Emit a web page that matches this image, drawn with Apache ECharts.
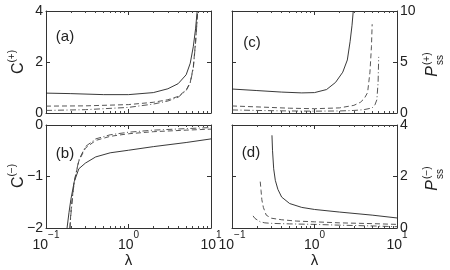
<!DOCTYPE html>
<html><head><meta charset="utf-8">
<script src="https://cdn.jsdelivr.net/npm/echarts@6/dist/echarts.min.js"></script>
<style>html,body{margin:0;padding:0;background:#fff}#c{width:450px;height:270px}</style>
</head><body><div id="c"></div>
<script>
// ---------- data ----------
// panel (a): C(+) vs lambda
const aSolidX = [0.1, 0.2, 0.5, 1, 2, 3, 4, 5, 5.6, 6.1, 6.5, 6.8];
const aSolidY = [0.78, 0.76, 0.72, 0.72, 0.8, 0.95, 1.15, 1.5, 1.95, 2.6, 3.3, 4.0];
const aDashX  = [0.1, 0.3, 1, 2, 3, 4, 5, 5.6, 6.1, 6.5, 6.9];
const aDashY  = [0.27, 0.28, 0.33, 0.42, 0.52, 0.65, 0.9, 1.2, 1.8, 2.8, 4.0];
const aDotX   = [0.1, 0.3, 1, 2, 3, 4, 5, 5.6, 6.1, 6.5, 6.9];
const aDotY   = [0.1, 0.13, 0.22, 0.35, 0.47, 0.62, 0.88, 1.18, 1.75, 2.75, 4.0];
// panel (b): C(-) vs lambda
const bSolidX = [0.18, 0.19, 0.2, 0.22, 0.25, 0.3, 0.4, 0.6, 1, 2, 5, 10];
const bSolidY = [-2.0, -1.7, -1.45, -1.1, -0.85, -0.74, -0.62, -0.54, -0.49, -0.42, -0.34, -0.27];
const bDashX  = [0.195, 0.2, 0.21, 0.22, 0.25, 0.3, 0.4, 0.6, 1, 2, 5, 10];
const bDashY  = [-2.0, -1.7, -1.35, -1.1, -0.7, -0.45, -0.3, -0.22, -0.17, -0.13, -0.1, -0.08];
const bDotX   = [0.195, 0.2, 0.21, 0.22, 0.25, 0.3, 0.4, 0.6, 1, 2, 5, 10];
const bDotY   = [-2.0, -1.75, -1.4, -1.1, -0.68, -0.42, -0.27, -0.19, -0.14, -0.1, -0.07, -0.05];
// panel (c): Pss(+) vs lambda
const cSolidX = [0.1, 0.2, 0.4, 0.7, 1, 1.4, 1.8, 2.2, 2.5, 2.7, 2.85, 2.95];
const cSolidY = [2.35, 2.2, 2.05, 1.97, 2.0, 2.3, 3.0, 4.0, 5.2, 7.0, 8.6, 10];
const cDashX  = [0.1, 0.2, 0.5, 1, 2, 3, 3.6, 4.0, 4.4, 4.7, 4.9, 5.0];
const cDashY  = [0.69, 0.6, 0.47, 0.42, 0.5, 0.75, 1.05, 1.4, 2.0, 4.0, 6.5, 8.7];
const cDotX   = [0.1, 0.2, 0.5, 1, 2, 3, 4, 5, 5.4, 5.7, 5.9, 6.0];
const cDotY   = [0.3, 0.25, 0.2, 0.18, 0.2, 0.25, 0.33, 0.5, 0.8, 1.3, 3.0, 5.5];
// panel (d): Pss(-) vs lambda
const dSolidX = [0.305, 0.31, 0.32, 0.335, 0.36, 0.4, 0.5, 0.7, 1, 2, 5, 10];
const dSolidY = [3.6, 3.0, 2.3, 1.85, 1.5, 1.2, 0.95, 0.8, 0.72, 0.62, 0.5, 0.39];
const dDashX  = [0.22, 0.225, 0.23, 0.24, 0.26, 0.3, 0.4, 0.6, 1, 2, 5, 10];
const dDashY  = [1.8, 1.45, 1.1, 0.8, 0.5, 0.38, 0.32, 0.27, 0.24, 0.2, 0.17, 0.14];
const dDotX   = [0.18, 0.19, 0.2, 0.22, 0.25, 0.3, 0.5, 1, 2, 5, 10];
const dDotY   = [0.47, 0.37, 0.3, 0.24, 0.2, 0.18, 0.16, 0.14, 0.11, 0.08, 0.05];

// axes
const xRange = [0.1, 10];
const yRanges = [[0, 4, 2], [-2, 0, 1], [0, 10, 5], [0, 4, 2]];
const panelLabels = ['(a)', '(b)', '(c)', '(d)'];
const xTitle = 'λ';

// ---------- build ----------
const FONT = '"Liberation Sans", Arial, Helvetica, sans-serif';
const INK = '#222';
const grids = [
  {left: 46, top: 11, width: 165, height: 102},
  {left: 46, top: 125, width: 165, height: 103},
  {left: 232, top: 11, width: 165, height: 102},
  {left: 232, top: 125, width: 165, height: 103}
];
const minorLog = [];
for (let d = -1; d < 1; d++) for (let k = 2; k <= 9; k++) minorLog.push(Math.log10(k) + d);

function xFmt(v) {
  const e = Math.round(Math.log10(v));
  return '{b|10}{s|' + (e < 0 ? '\u2212' + (-e) : e) + '}';
}
const xRich = {
  b: {fontSize: 14, fontFamily: FONT, color: INK, lineHeight: 22, verticalAlign: 'bottom'},
  s: {fontSize: 10, fontFamily: FONT, color: INK, verticalAlign: 'top'}
};
const line = {show: true, onZero: false, lineStyle: {color: '#333', width: 1}};

const xAxis = [], yAxis = [], series = [];
grids.forEach((g, i) => {
  const bottomRow = (i === 1 || i === 3);
  xAxis.push({type: 'log', logBase: 10, gridIndex: i, min: xRange[0], max: xRange[1], position: 'bottom',
    axisLine: line, axisTick: {show: true, inside: true, length: 4, lineStyle: {color: '#333'}},
    axisLabel: {show: bottomRow, margin: 2, formatter: xFmt, rich: xRich}, splitLine: {show: false}});
  xAxis.push({type: 'log', logBase: 10, gridIndex: i, min: xRange[0], max: xRange[1], position: 'top',
    axisLine: line, axisTick: {show: true, inside: true, length: 4, lineStyle: {color: '#333'}},
    axisLabel: {show: false}, splitLine: {show: false}});
  ['bottom', 'top'].forEach(p => xAxis.push({type: 'value', gridIndex: i, min: -1, max: 1, position: p,
    axisLine: {show: false, onZero: false}, axisTick: {show: true, inside: true, length: 2, customValues: minorLog, lineStyle: {color: '#444'}},
    axisLabel: {show: false}, splitLine: {show: false}}));
  const yr = yRanges[i];
  const leftLabels = i < 2;
  ['left', 'right'].forEach(p => yAxis.push({type: 'value', gridIndex: i, min: yr[0], max: yr[1], interval: yr[2], position: p,
    axisLine: line, axisTick: {show: true, inside: true, length: 4, lineStyle: {color: '#333'}},
    axisLabel: {show: (p === 'left') === leftLabels, margin: 3, fontSize: 14, fontFamily: FONT, color: INK,
      formatter: v => v < 0 ? '\u2212' + (-v) : String(v)},
    splitLine: {show: false}}));
});

const styles = {
  solid: {color: '#222', width: 0.9, type: 'solid'},
  dash: {color: '#444', width: 0.9, type: [5, 3]},
  dot: {color: '#444', width: 0.9, type: [6, 2.5, 1, 2.5]}
};
function addSeries(g, xs, ys, st) {
  series.push({type: 'line', xAxisIndex: 4 * g, yAxisIndex: 2 * g, showSymbol: false, symbol: 'none',
    animation: false, lineStyle: styles[st], clip: true,
    data: xs.map((x, k) => [x, ys[k]])});
}
addSeries(0, aSolidX, aSolidY, 'solid'); addSeries(0, aDashX, aDashY, 'dash'); addSeries(0, aDotX, aDotY, 'dot');
addSeries(1, bSolidX, bSolidY, 'solid'); addSeries(1, bDashX, bDashY, 'dash'); addSeries(1, bDotX, bDotY, 'dot');
addSeries(2, cSolidX, cSolidY, 'solid'); addSeries(2, cDashX, cDashY, 'dash'); addSeries(2, cDotX, cDotY, 'dot');
addSeries(3, dSolidX, dSolidY, 'solid'); addSeries(3, dDashX, dDashY, 'dash'); addSeries(3, dDotX, dDotY, 'dot');

function txt(x, y, text, size, extra) {
  return Object.assign({type: 'text', x: x, y: y, silent: true,
    style: {text: text, font: size + 'px ' + FONT, fill: INK, align: 'center', verticalAlign: 'middle',
      textAlign: 'center', textVerticalAlign: 'middle'}}, extra || {});
}
const cRich = {
  c: {fontSize: 16, fontFamily: FONT, fill: INK, color: INK, lineHeight: 24},
  s: {fontSize: 10, fontFamily: FONT, fill: INK, color: INK, verticalAlign: 'top'}
};
function cLabel(x, y, sign) {
  const t = txt(x, y, '{c|C}{s|(' + sign + ')}', 16, {rotation: Math.PI / 2});
  t.style.rich = cRich;
  return t;
}
function pLabel(x, y, sign) {
  return {type: 'group', x: x, y: y, rotation: Math.PI / 2, silent: true, children: [
    {type: 'text', x: -4, y: 0, style: {text: 'P', font: 'italic 16px ' + FONT, fill: INK, align: 'right', verticalAlign: 'middle'}},
    {type: 'text', x: -3, y: -6, style: {text: '(' + sign + ')', font: '10px ' + FONT, fill: INK, align: 'left', verticalAlign: 'middle'}},
    {type: 'text', x: -3, y: 7, style: {text: 'ss', font: '10px ' + FONT, fill: INK, align: 'left', verticalAlign: 'middle'}}
  ]};
}
const graphic = [
  txt(65, 37, panelLabels[0], 15), txt(65, 154, panelLabels[1], 15),
  txt(252, 43, panelLabels[2], 15), txt(251, 153, panelLabels[3], 15),
  txt(128.5, 261, xTitle, 15), txt(314.5, 261, xTitle, 15),
  cLabel(19, 62, '+'), cLabel(19, 176, '\u2212'),
  pLabel(433, 62, '+'), pLabel(433, 176, '\u2212')
];

const chart = echarts.init(document.getElementById('c'), null, {renderer: 'canvas'});
chart.setOption({animation: false, backgroundColor: '#fff', grid: grids, xAxis: xAxis, yAxis: yAxis, series: series,
  graphic: {elements: graphic}});
</script></body></html>
